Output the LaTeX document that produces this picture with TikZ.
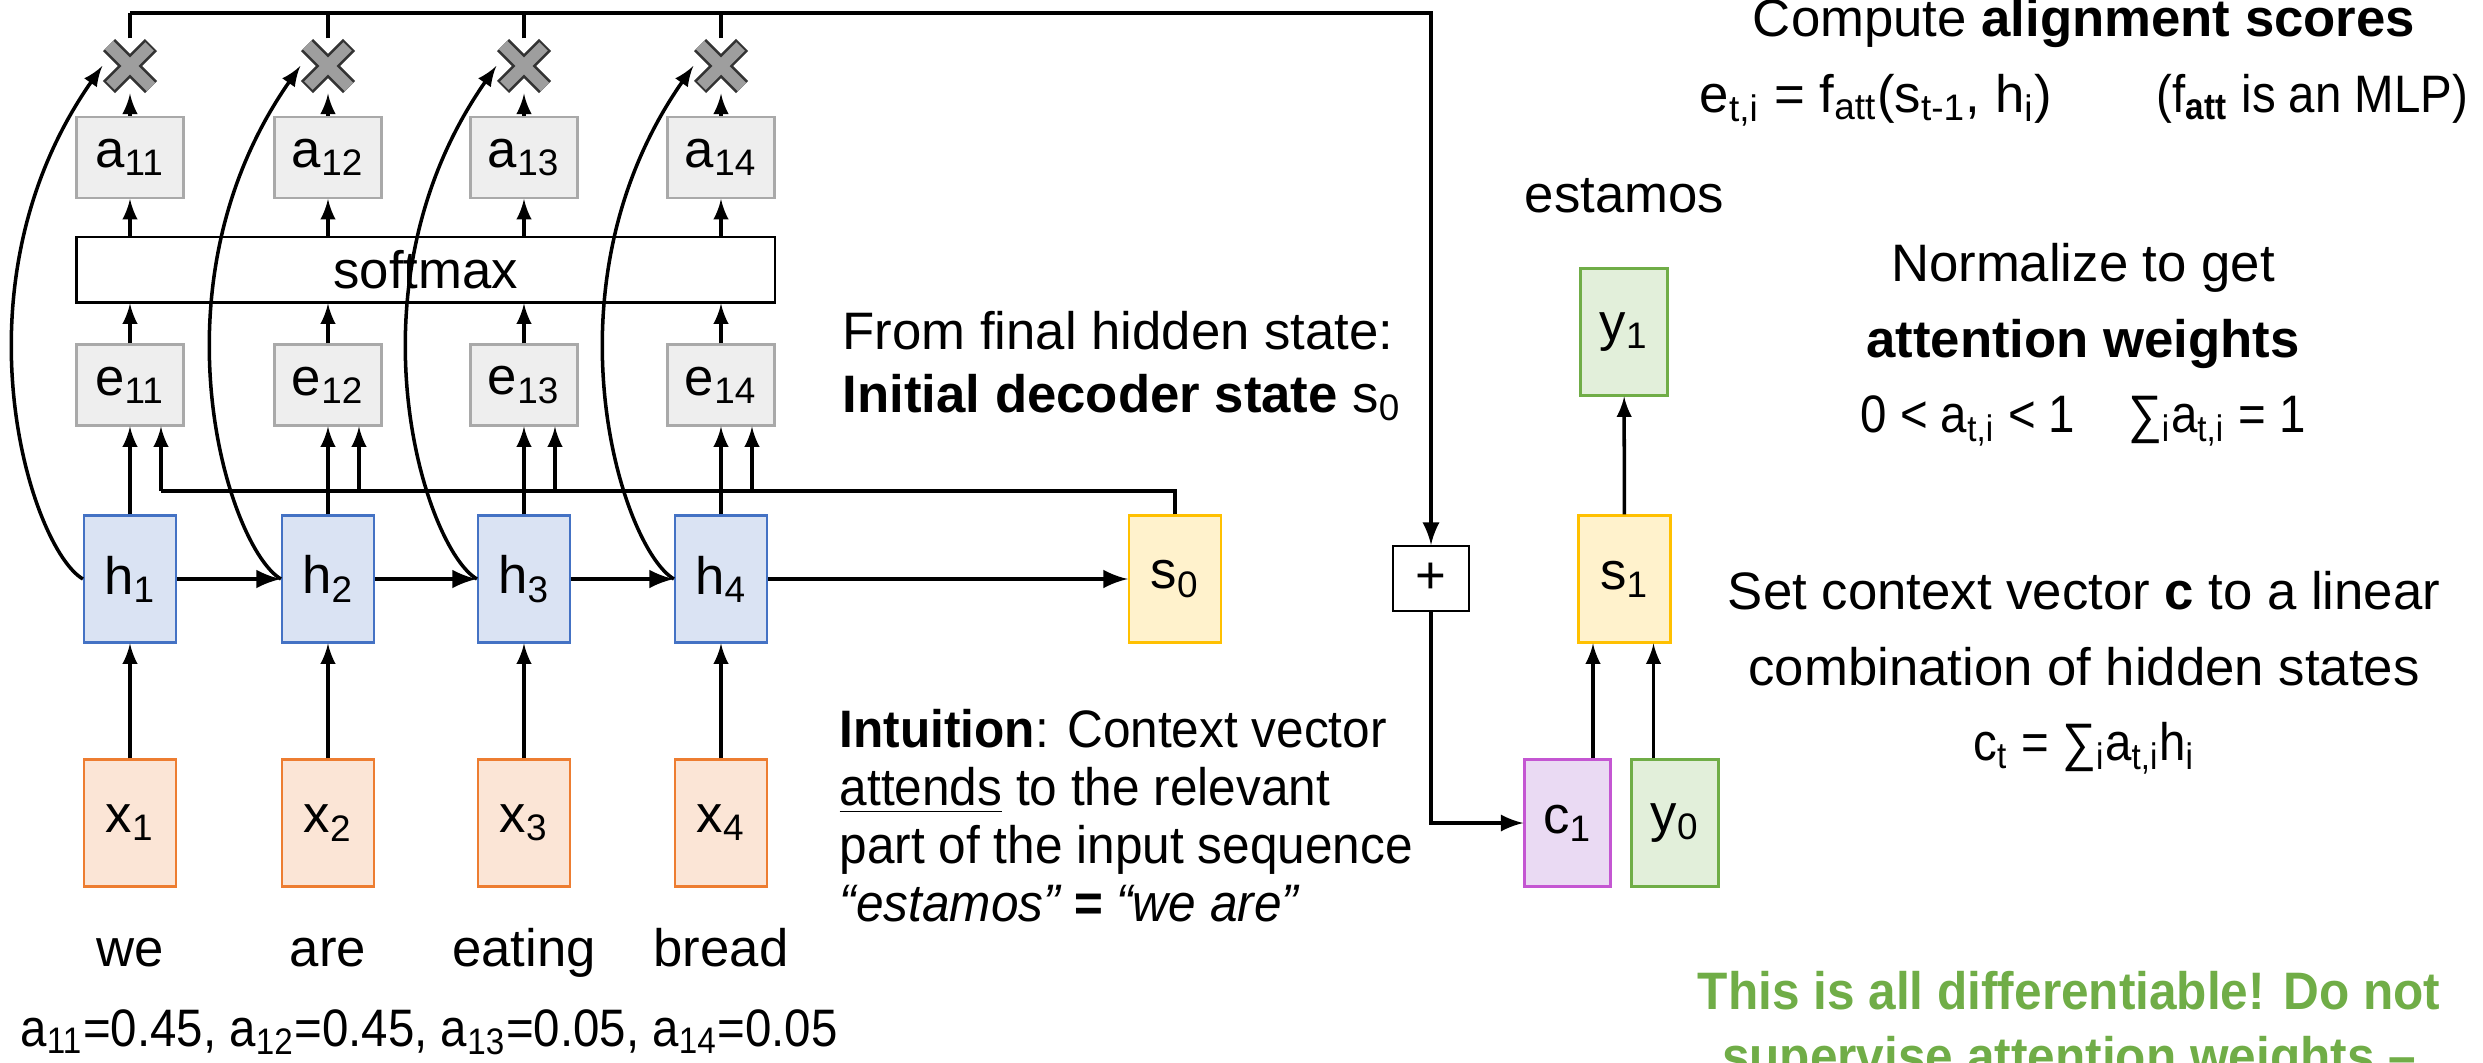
\documentclass[tikz,border=0pt]{standalone}
\usepackage{fontspec}
\setmainfont{Liberation Sans}
\newfontfamily\narrowfont{Liberation Sans}[FakeStretch=0.9]
\newfontfamily\slimfont{Liberation Sans}[FakeStretch=0.94]
\usetikzlibrary{calc}
\definecolor{inline}{HTML}{ED7D31}
\definecolor{infill}{HTML}{FBE5D6}
\definecolor{hidline}{HTML}{4472C4}
\definecolor{hidfill}{HTML}{DAE3F3}
\definecolor{grayline}{HTML}{A9A9A9}
\definecolor{grayfill}{HTML}{EEEEEE}
\definecolor{stline}{HTML}{FFC000}
\definecolor{stfill}{HTML}{FFF2CC}
\definecolor{outline}{HTML}{70AD47}
\definecolor{outfill}{HTML}{E2EFDA}
\definecolor{ctxline}{HTML}{C456D2}
\definecolor{ctxfill}{HTML}{EADAF3}
\newcommand\lo[1]{\textsubscript{#1}}
\tikzset{%
  >=latex, % option for nice arrows
  inner sep=0pt,%
  every node/.style={font=\fontsize{15pt}{18pt}\selectfont},
  cell/.style={draw, line width=0.6pt, minimum width=0.92cm, minimum height=1.27cm},
  inbox/.style={cell, fill=infill, draw=inline},
  hidbox/.style={cell, fill=hidfill, draw=hidline},
  scorebox/.style={cell, fill=grayfill, draw=grayline, minimum width=1.07cm,
    minimum height=0.81cm},
  statebox/.style={cell, fill=stfill, draw=stline},
  outbox/.style={cell, fill=outfill, draw=outline, minimum width=0.87cm},
  ctxbox/.style={cell, fill=ctxfill, draw=ctxline, minimum width=0.86cm},
  mult/.style={minimum size=0.54cm},
  note/.style={align=center, font=\fontsize{15pt}{21.5pt}\selectfont},
  wire/.style={line width=1pt}
}
\begin{document}
\begin{tikzpicture}

\useasboundingbox (0,0) rectangle (24.83,-10.62);

%% encoder columns

\foreach \i/\cx/\w in {1/1.30/we,2/3.28/are,3/5.24/eating,4/7.21/bread}{
  \node[inbox] (x\i) at (\cx,-8.23) {x\lo{\i}};
  \node[hidbox] (h\i) at (\cx,-5.79) {h\lo{\i}};
  \node[scorebox] (e\i) at (\cx,-3.85) {e\lo{1\i}};
  \node[scorebox] (a\i) at (\cx,-1.575) {a\lo{1\i}};
  \node[mult] (m\i) at (\cx,-0.66) {};
  \node[anchor=base] (w\i) at (\cx,-9.66) {\w};
  \coordinate (t\i) at ([xshift=3.1mm]e\i.south);
}
\node[draw, line width=0.6pt, minimum width=6.985cm, minimum height=0.655cm]
  (sm) at (4.2575,-2.6975) {softmax};

%% decoder side

\node[statebox] (s0) at (11.75,-5.79) {s\lo{0}};
\node[draw, line width=0.6pt, minimum width=0.76cm, minimum height=0.65cm]
  (plus) at (14.31,-5.785) {+};
\node[statebox] (s1) at (16.245,-5.79) {s\lo{1}};
\node[outbox] (y1) at (16.24,-3.32) {y\lo{1}};
\node[ctxbox] (c1) at (15.675,-8.23) {c\lo{1}};
\node[outbox] (y0) at (16.75,-8.23) {y\lo{0}};
\node (est) at (16.245,-1.96) {estamos};

\coordinate (top) at (0,-0.13);
\coordinate (sl) at (1.61,-4.91);

%% multiply marks

\foreach \i in {1,...,4}{
  \draw[line width=0.17cm, black!80] ([shift={(-0.21,0.21)}]m\i.center) -- ([shift={(0.21,-0.21)}]m\i.center)
    ([shift={(0.21,0.21)}]m\i.center) -- ([shift={(-0.21,-0.21)}]m\i.center);
  \draw[line width=0.12cm, black!38, shorten <=0.02cm, shorten >=0.02cm]
    ([shift={(-0.21,0.21)}]m\i.center) -- ([shift={(0.21,-0.21)}]m\i.center)
    ([shift={(0.21,0.21)}]m\i.center) -- ([shift={(-0.21,-0.21)}]m\i.center);
}

%% wires

\foreach \i in {1,...,4}{
  \draw[wire,->] (x\i) -- (h\i);
  \draw[wire,->] (h\i) -- (e\i);
  \draw[wire,->] (t\i |- sl) -- (t\i);
  \draw[wire,->] (e\i.north) -- (e\i.north |- sm.south);
  \draw[wire,->] (a\i.south |- sm.north) -- (a\i.south);
  \draw[wire,->] (a\i) -- (m\i);
  \draw[wire] (m\i.north) -- (m\i.north |- top);
  \draw[wire,->] (h\i.west) .. controls +(150:0.6) and +(235:2.7) .. (m\i.west);
}
\draw[line width=1.4pt,->] (h1) -- (h2);
\draw[line width=1.4pt,->] (h2) -- (h3);
\draw[line width=1.4pt,->] (h3) -- (h4);
\draw[line width=1.4pt,->] (h4) -- (s0);
\draw[wire] (s0.north) |- (sl);
\draw[line width=1.2pt,->] (m1.north |- top) -| (plus.north);
\draw[line width=1.2pt,->] (plus.south) |- (c1.west);
\draw[wire,->] ([xshift=2.55mm]c1.north) -- ([xshift=2.55mm]c1.north |- s1.south);
\draw[wire,->] ([xshift=-2.15mm]y0.north) -- ([xshift=-2.15mm]y0.north |- s1.south);
\draw[wire,->] (s1) -- (y1);

%% texts

\node[anchor=west, align=left] (init) at (8.42,-3.66)
  {From final hidden state:\\\textbf{Initial decoder state} s\lo{0}};
\node[anchor=west, align=left, font=\slimfont\fontsize{15pt}{16.5pt}\selectfont] (intu) at (8.39,-8.16)
  {\textbf{Intuition}: Context vector\\\underline{attends} to the relevant\\
   part of the input sequence\\\textit{“estamos” \textbf{=} “we are”}};
\node[anchor=base, font=\narrowfont\fontsize{15pt}{18pt}\selectfont] (vals) at (4.29,-10.46)
  {a\lo{11}=0.45, a\lo{12}=0.45, a\lo{13}=0.05, a\lo{14}=0.05};
\node[note] (align) at (20.84,-0.625)
  {Compute \textbf{alignment scores}\\
   e\lo{t,i} = f\lo{att}(s\lo{t-1}, h\lo{i})\hspace{1.05cm}{\narrowfont(f\lo{\textbf{att}} is an MLP)}};
\node[note] (norm) at (20.83,-3.45)
  {Normalize to get\\\textbf{attention weights}\\
   {\narrowfont 0 < a\lo{t,i} < 1\quad ∑\lo{i}a\lo{t,i} = 1}};
\node[note] (ctx) at (20.84,-6.73)
  {Set context vector \textbf{c} to a linear\\combination of hidden states\\
   {\narrowfont c\lo{t} = ∑\lo{i}a\lo{t,i}h\lo{i}}};
\node[align=center, text=outline, font=\slimfont\bfseries\fontsize{15pt}{18.5pt}\selectfont]
  (diff) at (20.69,-10.28)
  {This is all differentiable! Do not\\supervise attention weights –};

\end{tikzpicture}
\end{document}
